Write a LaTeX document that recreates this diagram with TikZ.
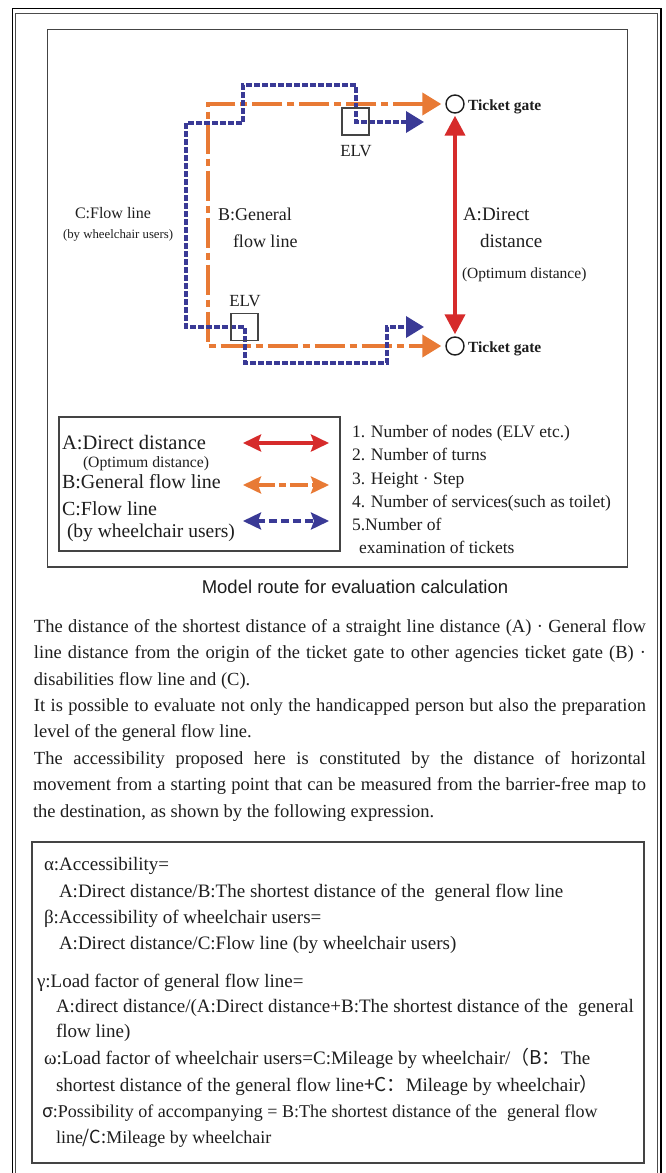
\documentclass[tikz,border=0pt]{standalone}
\usepackage{fontspec}
\setmainfont{Liberation Serif}
\setsansfont{Liberation Sans}
\newfontfamily\cjkfont{Noto Sans CJK SC}
\usetikzlibrary{arrows.meta}
\definecolor{cred}{HTML}{D62B2B}
\definecolor{corange}{HTML}{E87A35}
\definecolor{cblue}{HTML}{3A3A96}
\definecolor{ctext}{HTML}{1E1E1E}
\definecolor{cbox}{HTML}{444444}
\newcommand\myfs[1]{\fontsize{#1}{#1}\selectfont}
\begin{document}
\begin{tikzpicture}[x=1pt,y=-1pt,
  lbl/.style={anchor=base west,inner sep=0pt,outer sep=0pt,text=ctext},
  clbl/.style={anchor=base,inner sep=0pt,outer sep=0pt,text=ctext},
  para/.style={lbl,font=\myfs{18.5}},
  frm/.style={lbl,font=\myfs{19}},
  boxline/.style={draw=cbox,line width=1.6pt},
  gate/.style={circle,draw=ctext,line width=1.4pt,minimum size=18pt,inner sep=0pt},
  elvbox/.style={draw=cbox,line width=1.2pt},
  redline/.style={draw=cred,line width=4pt,{Triangle[length=20pt,width=20pt]}-{Triangle[length=20pt,width=20pt]}},
  orangeline/.style={draw=corange,line width=4pt,dash pattern=on 30pt off 5pt on 7pt off 5pt,{Triangle[length=19pt,width=22pt]}-{Triangle[length=19pt,width=22pt]}},
  blueline/.style={draw=cblue,line width=3.6pt,dash pattern=on 6pt off 2pt,{Triangle[length=18pt,width=21pt]}-{Triangle[length=18pt,width=21pt]}},
  legarr/.style={{Stealth[length=18pt,width=17pt,inset=3pt]}-{Stealth[length=18pt,width=17pt,inset=3pt]}},
]
\useasboundingbox (0,0) rectangle (665,1173);
\fill[white] (0,0) rectangle (665,1173);
% outer double frame
\draw[black,line width=1.3pt] (12.7,1185) -- (12.7,8.5) -- (661,8.5) -- (661,1185);
\draw[gray!60!black,line width=1.8pt] (15.5,1185) -- (15.5,13.5) -- (657.5,13.5) -- (657.5,1185);
% figure box
\draw[boxline] (47.5,29.5) rectangle (627.5,567);

% gates
\node[gate] (g1) at (455,104) {};
\node[gate] (g2) at (455,346) {};
\node[lbl,font=\bfseries\myfs{15.5}] (t1) at (468,110) {Ticket gate};
\node[lbl,font=\bfseries\myfs{15.5}] (t2) at (468,352) {Ticket gate};

% routes
\coordinate (o1) at (208,104);
\coordinate (o2) at (208,346);
\draw[orangeline,shorten <=4pt,shorten >=4pt] (g1.west) -- (o1) -- (o2) -- (g2.west);
\coordinate (b1) at (424,122);
\coordinate (b2) at (424,327);
\draw[blueline] (b1) -- (356,122) -- (356,85) -- (243,85) -- (243,123) -- (186,123)
  -- (186,327) -- (245,327) -- (245,363) -- (387,363) -- (387,327) -- (b2);
\draw[redline,shorten <=2pt,shorten >=2pt] (g1.south) -- (g2.north);

% ELV boxes
\node[elvbox,minimum size=27pt,inner sep=0pt] (e1) at (355.5,121.5) {};
\node[elvbox,minimum size=27pt,inner sep=0pt] (e2) at (244.5,327) {};
\node[clbl,font=\myfs{17}] (e1t) at (356,156) {ELV};
\node[clbl,font=\myfs{17}] (e2t) at (245,306) {ELV};

% diagram labels
\node[lbl,font=\myfs{16}] (c1) at (75,218) {C:Flow line};
\node[lbl,font=\myfs{12.8}] (c2) at (63,238) {(by wheelchair users)};
\node[lbl,font=\myfs{18}] (bl1) at (218,220) {B:General};
\node[lbl,font=\myfs{18}] (bl2) at (233,247) {flow line};
\node[lbl,font=\myfs{19}] (a1) at (463,220) {A:Direct};
\node[lbl,font=\myfs{19}] (a2) at (480,247) {distance};
\node[lbl,font=\myfs{15.5}] (a3) at (462,278) {(Optimum distance)};

% legend
\draw[boxline] (59,417) rectangle (340,551);
\node[lbl,font=\myfs{20.5}] (la) at (62,449) {A:Direct distance};
\node[lbl,font=\myfs{15.7}] (la2) at (83,467) {(Optimum distance)};
\node[lbl,font=\myfs{20}] (lb) at (62,488) {B:General flow line};
\node[lbl,font=\myfs{20}] (lc) at (62,515) {C:Flow line};
\node[lbl,font=\myfs{19.5}] (lc2) at (67,537) {(by wheelchair users)};
\coordinate (ra1) at (243,443); \coordinate (ra2) at (329,443);
\coordinate (rb1) at (243,485); \coordinate (rb2) at (329,485);
\coordinate (rc1) at (243,521); \coordinate (rc2) at (329,521);
\draw[cred,line width=4pt,legarr] (ra1) -- (ra2);
\draw[corange,line width=3.6pt,dash pattern=on 18pt off 4pt on 7pt off 4pt,legarr] (rb1) -- (rb2);
\draw[cblue,line width=3.4pt,dash pattern=on 8pt off 4pt,legarr] (rc1) -- (rc2);

% list
\node[lbl,font=\myfs{17.5}] (n1) at (352,437) {1. Number of nodes (ELV etc.)};
\node[lbl,font=\myfs{17.5}] (n2) at (352,460) {2. Number of turns};
\node[lbl,font=\myfs{17.5}] (n3) at (352,484) {3. Height · Step};
\node[lbl,font=\myfs{17.5}] (n4) at (352,507) {4. Number of services(such as toilet)};
\node[lbl,font=\myfs{17.5}] (n5) at (352,530) {5.Number of};
\node[lbl,font=\myfs{17.5}] (n6) at (359,553) {examination of tickets};

% caption
\node[clbl,font=\sffamily\myfs{18.5}] (cap) at (355,593) {Model route for evaluation calculation};

% paragraph
\node[para] (p1) at (34,632) {\makebox[612pt][s]{The distance of the shortest distance of a straight line distance (A) · General flow}};
\node[para] (p2) at (34,658) {\makebox[612pt][s]{line distance from the origin of the ticket gate to other agencies ticket gate (B) ·}};
\node[para] (p3) at (34,685) {disabilities flow line and (C).};
\node[para] (p4) at (34,711) {\makebox[612pt][s]{It is possible to evaluate not only the handicapped person but also the preparation}};
\node[para] (p5) at (34,737) {level of the general flow line.};
\node[para] (p6) at (34,764) {\makebox[612pt][s]{The accessibility proposed here is constituted by the distance of horizontal}};
\node[para] (p7) at (33,790) {\makebox[613pt][s]{movement from a starting point that can be measured from the barrier-free map to}};
\node[para] (p8) at (33,817) {the destination, as shown by the following expression.};

% formula box
\draw[boxline] (32,842) rectangle (644,1163);
\node[frm] (f1) at (44,870) {α:Accessibility=};
\node[frm] (f2) at (59,897) {A:Direct distance/B:The shortest distance of the\hspace{10pt}general flow line};
\node[frm] (f3) at (44,923) {β:Accessibility of wheelchair users=};
\node[frm] (f4) at (59,949) {A:Direct distance/C:Flow line (by wheelchair users)};
\node[frm] (f5) at (37,987) {γ:Load factor of general flow line=};
\node[frm] (f6) at (56,1012) {A:direct distance/(A:Direct distance+B:The shortest distance of the\hspace{10pt}general};
\node[frm] (f7) at (56,1037) {flow line)};
\node[frm] (f8) at (44,1064) {ω:Load factor of wheelchair users=C:Mileage by wheelchair/{\cjkfont （B：}The};
\node[frm] (f9) at (56,1091) {shortest distance of the general flow line{\cjkfont +C：}Mileage by wheelchair{\cjkfont ）}};
\node[lbl,font=\myfs{18}] (f10) at (42,1117) {{\cjkfont σ}:Possibility of accompanying = B:The shortest distance of the\hspace{10pt}general flow};
\node[lbl,font=\myfs{18}] (f11) at (56,1143) {line{\cjkfont /C:}Mileage by wheelchair};
\end{tikzpicture}
\end{document}
